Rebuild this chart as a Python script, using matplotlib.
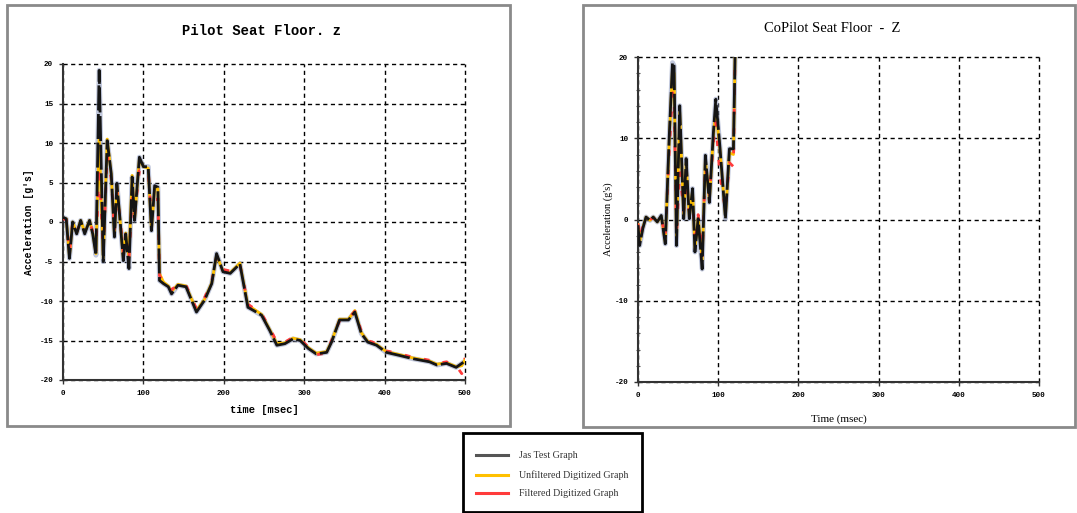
import matplotlib.pyplot as plt
from matplotlib.patches import Rectangle
from matplotlib.lines import Line2D
from matplotlib.ticker import MultipleLocator

plt.rcParams['axes.unicode_minus'] = False

# Pilot seat floor, z axis (time in msec, acceleration in g's)
t_pilot = [0, 4, 8, 12, 17, 22, 27, 33, 37, 41, 45, 50, 55, 60, 64, 67, 71, 75, 78, 82,
           86, 89, 95, 100, 106, 110, 114, 118, 120, 125, 131, 135, 143, 153, 166, 176,
           185, 191, 199, 208, 220, 230, 237, 247, 257, 266, 276, 286, 295, 305, 315,
           328, 334, 344, 355, 363, 371, 379, 390, 402, 419, 435, 456, 465, 477, 489,
           496, 500]
pilot_test = [0.6, 0.4, -4.6, 0.0, -1.5, 0.2, -1.5, 0.2, -1.5, -4.2, 19.2, -5.0, 10.3, 6.1,
              -1.9, 4.9, 0.2, -4.9, -1.5, -5.9, 5.7, 0.2, 8.2, 7.0, 7.0, -1.1, 4.6, 4.4,
              -7.4, -7.8, -8.2, -9.1, -8.0, -8.2, -11.4, -9.9, -7.8, -4.0, -6.3, -6.5,
              -5.3, -10.8, -11.2, -11.8, -13.7, -15.6, -15.4, -14.8, -15.0, -16.0, -16.7,
              -16.5, -15.2, -12.4, -12.4, -11.4, -14.1, -15.2, -15.6, -16.5, -16.9, -17.3,
              -17.7, -18.1, -17.9, -18.4, -17.9, -17.6]
pilot_unfilt = [0.5, 0.4, -4.3, 0.0, -1.4, 0.2, -1.3, 0.2, -1.4, -4.0, 10.8, -4.6, 10.5, 6.0,
                -1.6, 4.6, 0.2, -4.6, -1.4, -4.5, 5.9, 0.3, 8.0, 7.0, 6.8, -1.0, 4.3, 4.2,
                -6.5, -7.6, -8.1, -8.8, -7.9, -8.1, -11.2, -9.8, -7.7, -4.2, -6.2, -6.4,
                -5.2, -10.6, -11.0, -11.7, -13.6, -15.4, -15.3, -14.7, -14.9, -15.9, -16.6,
                -16.4, -15.1, -12.3, -12.3, -11.2, -14.0, -15.1, -15.5, -16.4, -16.8, -17.2,
                -17.6, -18.0, -17.8, -18.3, -18.2, -17.4]
pilot_filt = [0.4, 0.3, -3.8, 0.0, -1.3, 0.1, -1.2, 0.1, -1.2, -3.6, 7.0, -3.8, 8.5, 5.4,
              -1.2, 4.0, 0.3, -3.9, -1.2, -4.8, 3.0, 0.8, 6.5, 6.5, 6.5, 0.6, 1.5, 3.0,
              -6.8, -7.5, -8.0, -8.6, -7.8, -8.0, -11.0, -9.6, -7.5, -4.4, -6.0, -6.2,
              -5.4, -10.4, -10.9, -11.6, -13.4, -15.2, -15.2, -14.6, -14.8, -15.8, -16.8,
              -16.6, -15.0, -12.5, -12.2, -11.3, -13.8, -15.0, -15.4, -16.3, -16.7, -17.1,
              -17.5, -17.9, -17.7, -18.2, -19.2, -17.2]

# CoPilot seat floor, z axis
t_copilot = [0, 2, 6, 10, 15, 19, 24, 29, 34, 39, 43, 45, 48, 52, 57, 60, 64, 68, 71, 75,
             80, 84, 89, 94, 97, 102, 109, 114, 119, 121]
copilot_test = [-0.7, -3.2, -1.1, 0.3, -0.1, 0.3, -0.3, 0.5, -3.0, 10.3, 19.3, 18.9, -3.2,
                14.0, 0.1, 7.5, 0.1, 3.8, -4.0, 0.1, -6.1, 7.9, 2.1, 10.7, 14.8, 9.1, 0.1,
                8.7, 8.7, 20.0]
copilot_unfilt = [-0.6, -2.8, -1.0, 0.3, -0.1, 0.3, -0.3, 0.4, -2.8, 9.8, 18.5, 18.0, -2.9,
                  13.2, 0.3, 7.0, 0.3, 3.5, -3.6, 0.3, -5.0, 7.4, 2.3, 10.2, 13.5, 8.8, 0.4,
                  8.2, 8.0, 20.0]
copilot_filt = [-0.5, -2.2, -0.8, 0.2, 0.0, 0.2, -0.2, 0.3, -2.2, 8.5, 15.6, 15.0, -2.0,
                6.0, 1.0, 3.5, 1.0, 3.0, -3.0, 0.6, -4.5, 6.5, 3.0, 9.5, 12.0, 5.5, 1.2,
                7.0, 6.5, 20.0]

legend_labels = ['Jas Test Graph', 'Unfiltered Digitized Graph', 'Filtered Digitized Graph']
colors = ['#3a3a3a', '#ffc000', '#ff3b3b']

W, H = 1077, 513
fig = plt.figure(figsize=(W / 100, H / 100), dpi=100)


def fx(px):
    return px / W


def fy(py):
    return 1 - py / H


def draw_traces(ax, t, test, unfilt, filt):
    ax.plot(t, test, color='#8f9bc0', lw=3.6, alpha=0.55, zorder=2)
    ax.plot(t, unfilt, color=colors[1], lw=2.0, zorder=3)
    ax.plot(t, filt, color=colors[2], lw=2.0, linestyle=(0, (2, 5)), zorder=4)
    ax.plot(t, test, color='#151515', lw=2.0, linestyle=(0, (9, 1.3)), zorder=5)


def style_axes(ax, ystep):
    ax.set_xlim(0, 500)
    ax.set_ylim(-20, 20)
    ax.xaxis.set_major_locator(MultipleLocator(100))
    ax.yaxis.set_major_locator(MultipleLocator(ystep))
    ax.grid(True, color='black', lw=1.0, linestyle=(0, (3, 2.5)))
    ax.set_axisbelow(True)
    for gl in ax.get_xgridlines() + ax.get_ygridlines():
        gl.set_clip_on(False)
    for side in ('top', 'right'):
        ax.spines[side].set_visible(False)
    for side in ('left', 'bottom'):
        ax.spines[side].set_color('#333333')
        ax.spines[side].set_linewidth(1.5)
    ax.tick_params(direction='out', length=3, width=1, color='#333333', pad=4)
    for lab in ax.get_xticklabels() + ax.get_yticklabels():
        lab.set(family='Liberation Mono', weight='bold', size=5.5)


# panel frames
fig.add_artist(Rectangle((fx(7), fy(426)), fx(503), 421 / H, transform=fig.transFigure,
                         fill=False, edgecolor='#8a8a8a', lw=2))
fig.add_artist(Rectangle((fx(583), fy(427)), fx(492), 422 / H, transform=fig.transFigure,
                         fill=False, edgecolor='#8a8a8a', lw=2))

mono = dict(family='Liberation Mono', weight='bold')

# left panel
ax1 = fig.add_axes([fx(63), fy(380), fx(402), 316 / H])
draw_traces(ax1, t_pilot, pilot_test, pilot_unfilt, pilot_filt)
style_axes(ax1, 5)
ax1.set_xlabel('time [msec]', fontsize=7.5, labelpad=6, **mono)
ax1.set_ylabel("Acceleration [g's]", fontsize=7, labelpad=4, **mono)
fig.text(fx(262), fy(31), 'Pilot Seat Floor. z', ha='center', va='center', fontsize=10, **mono)

# right panel
ax2 = fig.add_axes([fx(638), fy(382), fx(401), 325 / H])
draw_traces(ax2, t_copilot, copilot_test, copilot_unfilt, copilot_filt)
style_axes(ax2, 10)
ax2.yaxis.set_minor_locator(MultipleLocator(2))
ax2.tick_params(axis='y', which='minor', direction='inout', length=3, width=0.8, color='#555555')
ax2.set_xlabel('Time (msec)', fontsize=8, family='Liberation Serif', labelpad=11)
ax2.set_ylabel("Acceleration (g's)", fontsize=7.5, family='Liberation Serif', labelpad=1)
fig.text(fx(832), fy(28), 'CoPilot Seat Floor  -  Z', ha='center', va='center',
         fontsize=10.5, family='Liberation Serif')

# legend box
fig.add_artist(Rectangle((fx(463), fy(512)), fx(179), 79 / H, transform=fig.transFigure,
                         fill=False, edgecolor='black', lw=2))
for label, color, py in zip(legend_labels, ['#555555', colors[1], colors[2]], [455, 475, 493]):
    fig.add_artist(Line2D([fx(476), fx(508)], [fy(py), fy(py)], transform=fig.transFigure,
                          color=color, lw=2.2))
    fig.text(fx(519), fy(py), label, ha='left', va='center', fontsize=7.2,
             family='Liberation Serif', color='#333333')

fig.savefig('out.png', dpi=100)
